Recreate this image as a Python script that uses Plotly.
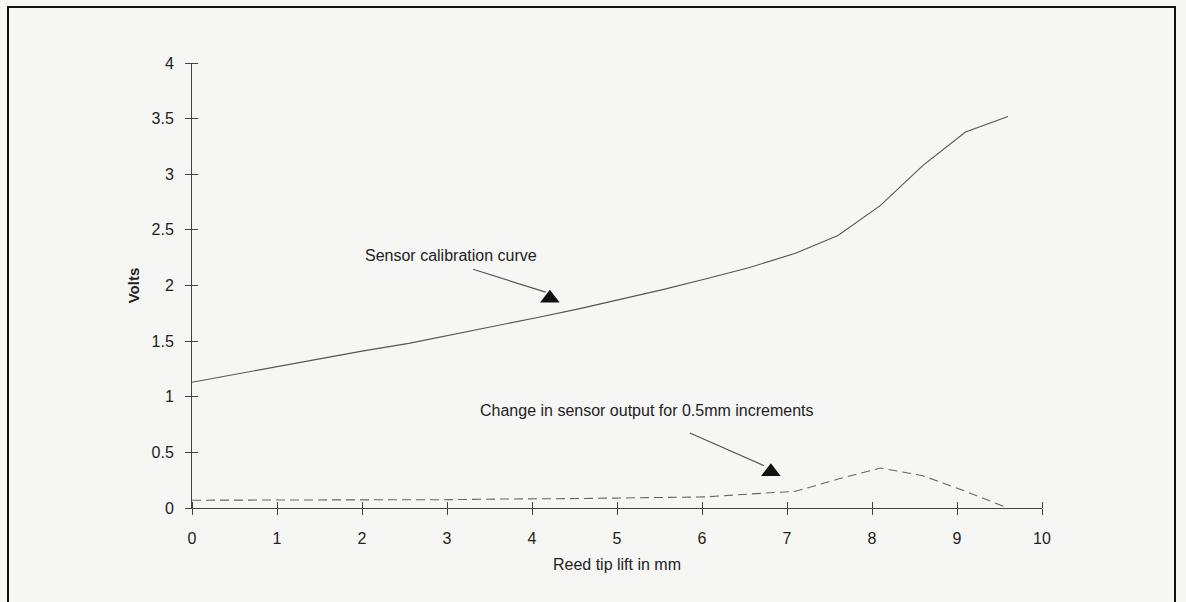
import plotly.graph_objects as go

# ---- data ----
lift_mm = [0.0, 0.5, 1.0, 1.5, 2.0, 2.55, 3.05, 3.55, 4.05, 4.55,
           5.05, 5.55, 6.05, 6.55, 7.1, 7.6, 8.1, 8.6, 9.1, 9.6]
calibration_volts = [1.13, 1.20, 1.27, 1.34, 1.41, 1.48, 1.555, 1.63, 1.71, 1.79,
                     1.875, 1.965, 2.06, 2.16, 2.29, 2.45, 2.72, 3.08, 3.38, 3.52]
change_volts = [0.07, 0.07, 0.07, 0.07, 0.07, 0.075, 0.075, 0.08, 0.08, 0.085,
                0.09, 0.095, 0.10, 0.125, 0.15, 0.26, 0.36, 0.29, 0.15, 0.0]

x_ticks = list(range(0, 11))
y_ticks = [0, 0.5, 1, 1.5, 2, 2.5, 3, 3.5, 4]

# annotation anchors (data coordinates)
label1 = dict(text="Sensor calibration curve", x=3.05, y=2.27)
arrow1 = dict(x0=3.29, y0=2.15, x1=4.16, y1=1.94)
head1 = dict(x=4.21, y=1.885)
label2 = dict(text="Change in sensor output for 0.5mm increments", x=5.35, y=0.88)
arrow2 = dict(x0=5.84, y0=0.68, x1=6.73, y1=0.38)
head2 = dict(x=6.81, y=0.325)

BG = "#f6f6f4"
INK = "#222222"
FONT = "Liberation Sans, Arial, sans-serif"
EPS = 1e-6  # tiny offset so the inner half of each crossing tick is kept as a minor tick

fig = go.Figure()
fig.add_trace(go.Scatter(x=lift_mm, y=calibration_volts, mode="lines",
                         line=dict(color="#555555", width=1.1), showlegend=False,
                         hoverinfo="skip"))
fig.add_trace(go.Scatter(x=lift_mm, y=change_volts, mode="lines",
                         line=dict(color="#666666", width=1.1, dash="9px,5px"),
                         showlegend=False, hoverinfo="skip"))
fig.add_trace(go.Scatter(x=[head1["x"], head2["x"]], y=[head1["y"], head2["y"]],
                         mode="markers",
                         marker=dict(symbol="triangle-up", size=17, color="#111111",
                                     line=dict(width=0)),
                         showlegend=False, hoverinfo="skip", cliponaxis=False))

axis_common = dict(showgrid=False, zeroline=False, showline=True, linecolor="#444444",
                   linewidth=1, ticks="outside", ticklen=6, tickcolor="#444444",
                   tickwidth=1, tickfont=dict(family=FONT, size=16, color=INK))

fig.update_layout(
    width=1186, height=602,
    margin=dict(l=192, r=144, t=63, b=94),
    paper_bgcolor=BG, plot_bgcolor=BG,
    font=dict(family=FONT, color=INK),
    xaxis=dict(range=[0, 10], tickvals=x_ticks, ticktext=[str(v) for v in x_ticks],
               ticklabelstandoff=10,
               minor=dict(tickmode="array", tickvals=[v + EPS for v in x_ticks],
                          ticks="inside", ticklen=6, tickcolor="#444444", tickwidth=1,
                          showgrid=False),
               title=dict(text="Reed tip lift in mm", font=dict(family=FONT, size=16, color=INK),
                          standoff=12),
               **axis_common),
    yaxis=dict(range=[0, 4], tickvals=y_ticks, ticktext=[f"{v:g}" for v in y_ticks],
               ticklabelstandoff=8,
               minor=dict(tickmode="array", tickvals=[v + EPS for v in y_ticks],
                          ticks="inside", ticklen=6, tickcolor="#444444", tickwidth=1,
                          showgrid=False),
               title=dict(text="<b>Volts</b>", font=dict(family=FONT, size=15, color=INK),
                          standoff=8),
               **axis_common),
)

fig.add_annotation(x=label1["x"], y=label1["y"], text=label1["text"], showarrow=False,
                   font=dict(family=FONT, size=16, color=INK))
fig.add_annotation(x=label2["x"], y=label2["y"], text=label2["text"], showarrow=False,
                   font=dict(family=FONT, size=16, color=INK))
for a in (arrow1, arrow2):
    fig.add_annotation(x=a["x1"], y=a["y1"], ax=a["x0"], ay=a["y0"],
                       xref="x", yref="y", axref="x", ayref="y",
                       text="", showarrow=True, arrowhead=0, arrowwidth=1.2,
                       arrowcolor="#555555")

# outer frame around the figure
fig.add_shape(type="rect", xref="paper", yref="paper",
              x0=(8 - 192) / 850, x1=(1175 - 192) / 850,
              y0=(508 - 610) / 445, y1=(508 - 7) / 445,
              line=dict(color="#111111", width=2), fillcolor="rgba(0,0,0,0)", layer="below")

fig.write_html("out.html")
